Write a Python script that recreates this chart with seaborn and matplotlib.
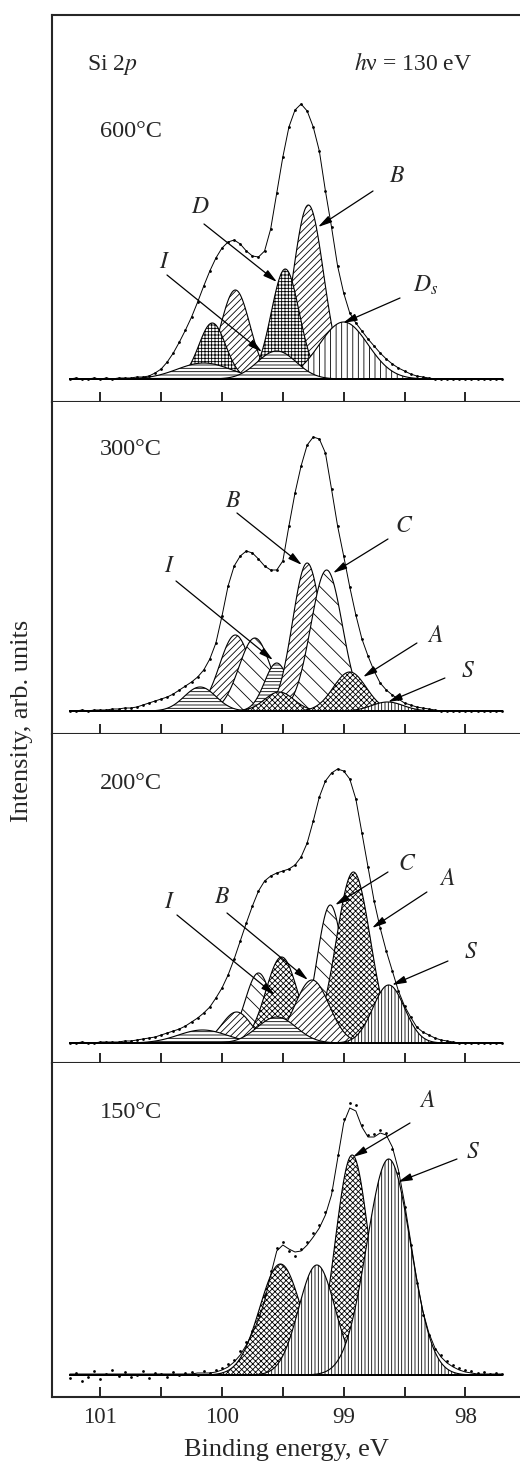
import numpy as np
import matplotlib
matplotlib.use("Agg")
import matplotlib.pyplot as plt
import seaborn as sns

# ---------------- data ----------------
energy = np.round(np.arange(101.25, 97.675, -0.05), 2)   # binding energy grid, eV (72 pts)

temps = ["600°C", "300°C", "200°C", "150°C"]

# measured/fitted envelope (arb. units) on the energy grid
fit_600 = [0, 1, 0, 0, 1, 0, 1, 0, 1, 1, 1, 2, 2,
           3, 6, 10, 17, 26, 37, 49, 62, 77, 93, 108, 121, 131, 137, 139, 135, 128, 123,
           122, 128, 150, 186, 222, 252, 269, 275, 268, 252, 228, 188, 152, 113, 86, 66,
           56, 48, 40, 33, 26, 20, 15, 11, 8, 5, 3, 2, 1,
           0, 0, 0, 0, 0, 0, 0, 0, 0, 0, 0, 0]
fit_300 = [0, 0, 1, 0, 1, 1, 1, 2, 2, 3, 3,
           4, 6, 8, 10, 12, 14, 17, 21, 25, 29, 34, 41, 52, 68, 95, 125, 145, 155, 160, 158,
           152, 145, 141, 141, 150, 185, 218, 245, 266, 274, 272, 258, 222, 185, 155, 124,
           96, 72, 55, 40, 28, 21, 16, 12, 8, 6, 4, 3, 2, 1,
           0, 0, 0, 0, 0, 0, 0, 0, 0, 0, 0]
fit_200 = [0, 0, 1, 0, 0, 1, 1, 1, 1,
           2, 2, 3, 4, 5, 6, 8, 10, 12, 14, 17, 21, 25, 30, 36, 45, 55, 68, 84, 102, 120,
           137, 152, 162, 167, 170, 172, 174, 178, 186, 200, 222, 246, 262, 270, 274, 272,
           264, 244, 210, 176, 142, 115, 92, 72, 52, 37, 26, 16, 11, 8, 5, 3, 2, 1,
           0, 0, 0, 0, 0, 0, 0, 0]
fit_150 = [1, 1, 1, 1, 1, 1, 1, 1, 1, 1, 1, 1, 1, 1, 1, 1, 1, 1, 1,
           1, 1, 2, 2, 2, 3, 5, 8, 13, 20, 30, 42, 55, 74, 100, 124, 130, 126, 123, 124,
           130, 138, 147, 160, 180, 216, 252, 267, 264, 248, 238, 238, 242, 240, 228, 205,
           172, 134, 96, 64, 42, 27, 18, 12, 8, 5, 3, 2, 1, 1, 1, 1, 1]
dots_150 = [-3, 2, -6, -2, 4, -4, 1, 5, -1, 3, -2, 0, 4, -3, 2, 1, -2, 3, 0, 2,
            3, 0, 4, 2, 5, 7, 11, 15, 24, 33, 44, 60, 80, 104, 127, 133, 124, 119, 126,
            133, 142, 150, 163, 185, 220, 256, 272, 270, 250, 240, 241, 245, 242, 226,
            202, 168, 130, 92, 60, 40, 26, 20, 14, 10, 7, 5, 4, 2, 3, 1, 2, 1]

# fitted components (drawing order back -> front)
comp_600_labels = ["B'", "B", "D'", "D", "Ds", "I'", "I"]
comp_600_center = [99.89, 99.29, 100.08, 99.48, 99.00, 100.15, 99.55]
comp_600_height = [89, 174, 56, 110, 57, 16, 28]
comp_600_width = [0.12, 0.125, 0.11, 0.115, 0.20, 0.22, 0.16]

comp_300_labels = ["B'", "C'", "I", "B", "C", "I'", "A'", "A", "S"]
comp_300_center = [99.89, 99.73, 99.55, 99.30, 99.14, 100.18, 99.53, 98.95, 98.64]
comp_300_height = [76, 73, 48, 148, 141, 24, 19, 39, 9]
comp_300_width = [0.13, 0.13, 0.10, 0.12, 0.13, 0.13, 0.12, 0.135, 0.13]

comp_200_labels = ["C'", "C", "A'", "A", "B'", "B", "I'", "I", "S"]
comp_200_center = [99.70, 99.11, 99.51, 98.92, 99.88, 99.26, 100.16, 99.55, 98.63]
comp_200_height = [70, 138, 86, 171, 31, 63, 13, 26, 58]
comp_200_width = [0.11, 0.11, 0.13, 0.14, 0.12, 0.14, 0.20, 0.16, 0.13]

comp_150_labels = ["A'", "A", "S'", "S"]
comp_150_center = [99.52, 98.93, 99.22, 98.63]
comp_150_height = [111, 220, 110, 216]
comp_150_width = [0.17, 0.14, 0.15, 0.18]

tick_pos = [101, 100.5, 100, 99.5, 99, 98.5, 98]
tick_labels = ["101", "", "100", "", "99", "", "98"]

# ---------------- styles / layout ----------------
HATCH = {"A": "xxxxxx", "B": "/////", "C": "\\\\", "D": "+++++", "Ds": "|||",
         "I": "-----", "S": "|||||"}

# annotations: (text, text_pos, arrow_tail, arrow_head) in data coords
ann = [
    [(r"$B$", (98.56, 197), (98.759, 188), (99.211, 152)),
     (r"$D$", (100.18, 166), (100.148, 155), (99.548, 97)),
     (r"$I$", (100.47, 111), (100.452, 104), (99.671, 27)),
     (r"$D_s$", (98.43, 87), (98.537, 81), (99.006, 56))],
    [(r"$B$", (99.91, 204), (99.877, 198), (99.343, 146)),
     (r"$C$", (98.50, 179), (98.636, 172), (99.088, 138)),
     (r"$I$", (100.43, 139), (100.378, 130), (99.581, 51)),
     (r"$A$", (98.25, 69), (98.398, 68), (98.841, 34)),
     (r"$S$", (97.98, 34), (98.168, 33), (98.636, 9))],
    [(r"$C$", (98.48, 173), (98.636, 171), (99.071, 138)),
     (r"$A$", (98.15, 158), (98.316, 151), (98.767, 115)),
     (r"$I$", (100.43, 135), (100.370, 128), (99.565, 48)),
     (r"$B$", (100.0, 140), (99.959, 130), (99.293, 63)),
     (r"$S$", (97.95, 85), (98.143, 82), (98.603, 58))],
    [(r"$A$", (98.31, 268), (98.455, 252), (98.924, 218)),
     (r"$S$", (97.94, 217), (98.069, 216), (98.554, 193))],
]
temp_h = [242, 256, 254, 257]

W, H = 520, 1465
panel_px = [(15, 402), (402, 734), (734, 1063), (1063, 1397)]
baseline_px = [379, 711, 1043, 1375]
XLIM = (101.397, 97.551)

sns.set_style("ticks")
plt.rcParams["font.family"] = ["Liberation Serif", "DejaVu Serif"]
plt.rcParams["mathtext.fontset"] = "stix"
plt.rcParams["hatch.linewidth"] = 0.6

fig = plt.figure(figsize=(W / 100, H / 100), dpi=100)

fits = [fit_600, fit_300, fit_200, fit_150]
dots = [fit_600, fit_300, fit_200, dots_150]
comps = [
    (comp_600_labels, comp_600_center, comp_600_height, comp_600_width),
    (comp_300_labels, comp_300_center, comp_300_height, comp_300_width),
    (comp_200_labels, comp_200_center, comp_200_height, comp_200_width),
    (comp_150_labels, comp_150_center, comp_150_height, comp_150_width),
]
fine = np.linspace(energy[0], energy[-1], 720)

for i in range(4):
    top, bot = panel_px[i]
    base = baseline_px[i]
    ax = fig.add_axes([52 / W, 1 - bot / H, (W - 52) / W, (bot - top) / H])
    labs, cen, hei, wid = comps[i]
    for lab, c, h, w in zip(labs, cen, hei, wid):
        y = h * np.exp(-0.5 * ((fine - c) / w) ** 2)
        ax.fill_between(fine, 0, y, facecolor="white", edgecolor="black",
                        hatch=HATCH[lab.rstrip("'")], linewidth=0.8, zorder=2)
    ax.hlines(0, energy[-1], energy[0], color="black", linewidth=1.4, zorder=3)
    sns.lineplot(x=energy, y=fits[i], ax=ax, color="black", linewidth=0.7, zorder=3)
    sns.scatterplot(x=energy, y=dots[i], ax=ax, color="black", s=4, linewidth=0, zorder=4)

    ax.set_xlim(*XLIM)
    ax.set_ylim(-(bot - base), base - top)
    ax.set_xlabel("")
    ax.set_ylabel("")
    ax.set_yticks([])
    ax.set_xticks(tick_pos)
    ax.set_xticklabels(tick_labels if i == 3 else [""] * len(tick_pos))
    ax.tick_params(axis="x", direction="in", length=7, width=1.4, bottom=True, top=False,
                   labelsize=16.5, pad=7)
    ax.spines["right"].set_visible(False)
    ax.spines["top"].set_visible(i == 0)
    for s in ("left", "bottom", "top"):
        ax.spines[s].set_linewidth(1.5)

    ax.text(101.0, temp_h[i], temps[i], fontsize=17.5, ha="left", va="baseline")
    for txt, tp, tail, head in ann[i]:
        ax.text(tp[0], tp[1], txt, fontsize=17,
                ha="left" if txt == r"$D_s$" else "center", va="baseline", zorder=6)
        ax.annotate("", xy=head, xytext=tail, zorder=6,
                    arrowprops=dict(arrowstyle="-|>,head_length=0.7,head_width=0.18",
                                    color="black", lw=0.9, mutation_scale=12,
                                    shrinkA=0, shrinkB=0))
    if i == 0:
        ax.text(101.109, 309, r"Si 2$p$", fontsize=17, ha="left", va="baseline")
        ax.text(97.946, 309, r"$h$ν = 130 eV", fontsize=17, ha="right", va="baseline")

fig.text(22 / W, 1 - 721 / H, "Intensity, arb. units", rotation=90, fontsize=19,
         ha="center", va="center")
fig.text(286 / W, 1 - 1450 / H, "Binding energy, eV", fontsize=19, ha="center", va="center")

fig.savefig("out.png", dpi=100)
